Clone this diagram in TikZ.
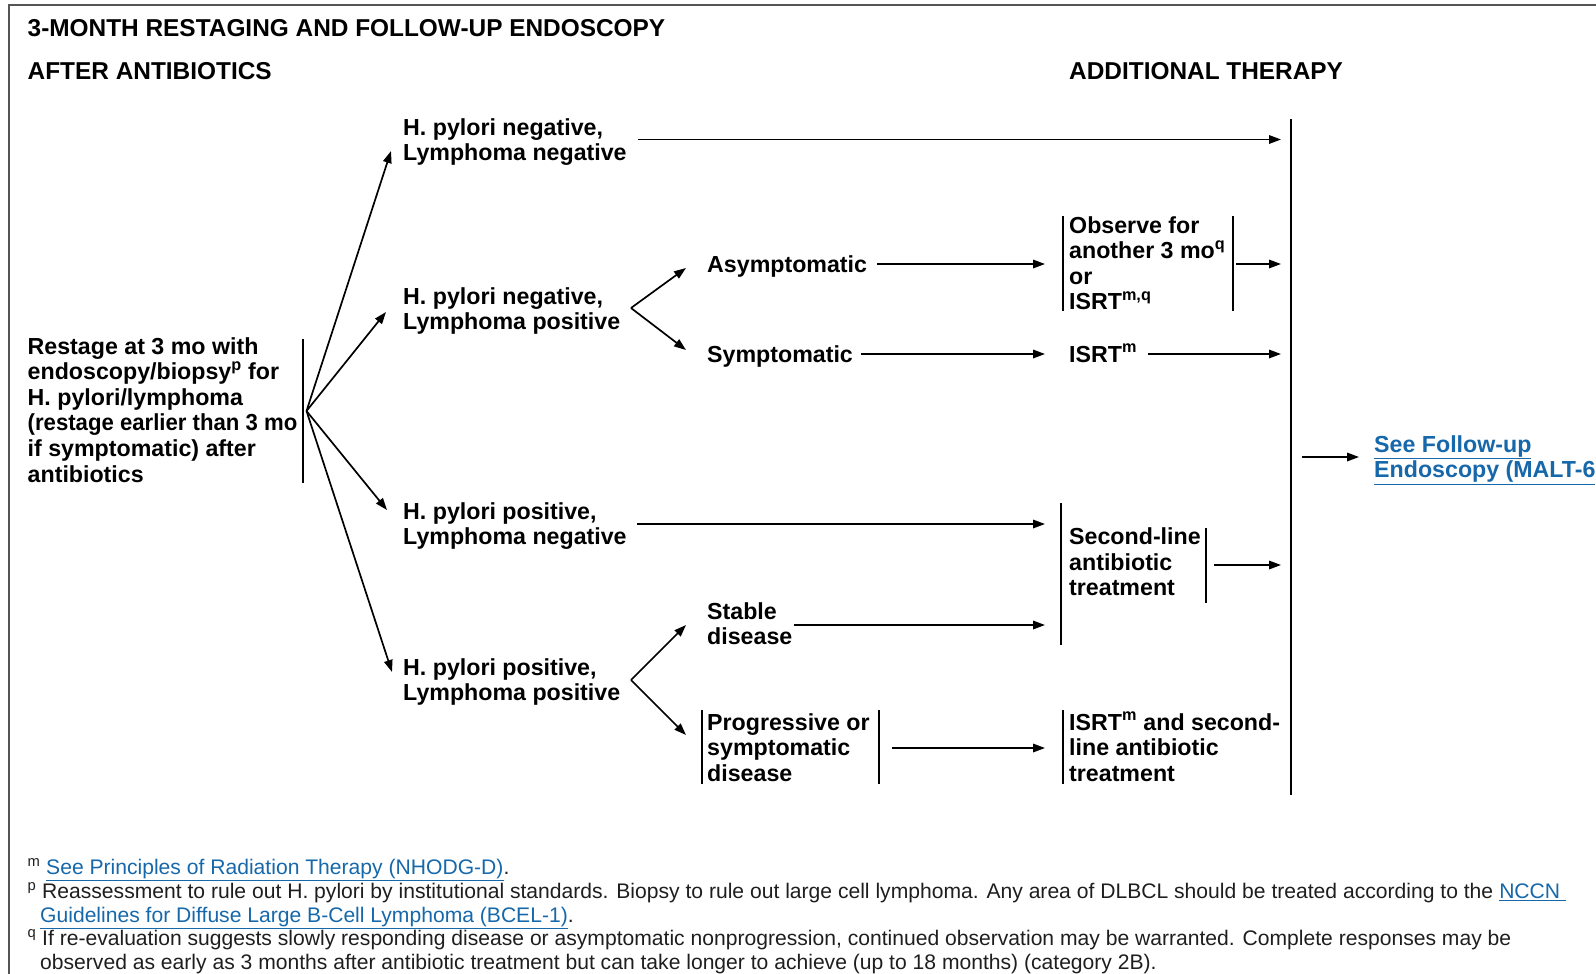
\documentclass[tikz,border=0pt]{standalone}
\usepackage{fontspec}
\usepackage{graphicx}
\setmainfont{Liberation Sans}
\usetikzlibrary{arrows.meta}
\definecolor{linkblue}{RGB}{22,104,170}
\definecolor{framegray}{RGB}{85,85,85}
\definecolor{notegray}{RGB}{30,30,30}
\newcommand{\lnk}[1]{{\color{linkblue}\underline{#1}}}
\begin{document}
% multi-line labels are anchored at the baseline of their last line
\begin{tikzpicture}[x=1pt,y=-1pt,
  head/.style={anchor=base west, inner sep=0pt, font=\fontsize{24.4}{28}\selectfont\bfseries},
  lbl/.style={anchor=base west, inner sep=0pt, align=left, font=\fontsize{23.2}{25.6}\selectfont\bfseries},
  note/.style={anchor=base west, inner sep=0pt, text=notegray, font=\fontsize{21.1}{23.6}\selectfont},
  arr/.style={line width=1.7pt, -{Triangle[length=12pt,width=8.5pt]}},
  bar/.style={line width=2pt},
  frame/.style={line width=2pt, draw=framegray}]
\useasboundingbox (0,0) rectangle (1596,974);

% page frame (top and left rules)
\draw[frame] (8.5,974) -- (8.5,5.5) -- (1596,5.5);

% headings
\node[head] (title) at (27.5,37) {3-MONTH RESTAGING AND FOLLOW-UP ENDOSCOPY};
\node[head] (colA) at (27.5,80) {AFTER ANTIBIOTICS};
\node[head] (colB) at (1069,80) {ADDITIONAL THERAPY};

% first column
\node[lbl] (restage) at (27.5,482) {Restage at 3 mo with\\endoscopy/biopsy\textsuperscript{p} for\\H. pylori/lymphoma\\\scalebox{0.955}[1]{(restage earlier than 3 mo}\\if symptomatic) after\\antibiotics};
\draw[bar] (303,339) -- (303,483);
\coordinate (fan) at (306.5,411);

% results of restaging
\node[lbl] (hnln) at (403,160.6) {H. pylori negative,\\Lymphoma negative};
\node[lbl] (hnlp) at (403,329.6) {H. pylori negative,\\Lymphoma positive};
\node[lbl] (hpln) at (403,544.6) {H. pylori positive,\\Lymphoma negative};
\node[lbl] (hplp) at (403,700.6) {H. pylori positive,\\Lymphoma positive};

\coordinate (t1) at (391,151);
\coordinate (t2) at (386,312);
\coordinate (t3) at (387,510);
\coordinate (t4) at (392,672);
\draw[arr] (fan) -- (t1);
\draw[arr] (fan) -- (t2);
\draw[arr] (fan) -- (t3);
\draw[arr] (fan) -- (t4);

% clinical status
\node[lbl] (asym) at (707,272) {Asymptomatic};
\node[lbl] (sym) at (707,362) {Symptomatic};
\node[lbl] (stable) at (707,644.6) {Stable\\disease};
\node[lbl] (prog) at (707,781.2) {Progressive or\\symptomatic\\disease};
\draw[bar] (702,710) -- (702,784);
\draw[bar] (879,710) -- (879,784);

\coordinate (forkA) at (631,308);
\coordinate (forkB) at (631,680);
\coordinate (ta1) at (686,268);
\coordinate (ta2) at (686,350);
\coordinate (tb1) at (686,625);
\coordinate (tb2) at (686,735);
\draw[arr] (forkA) -- (ta1);
\draw[arr] (forkA) -- (ta2);
\draw[arr] (forkB) -- (tb1);
\draw[arr] (forkB) -- (tb2);

% additional therapy
\node[lbl] (observe) at (1069,309.8) {Observe for\\another 3 mo\textsuperscript{q}\\or\\ISRT\textsuperscript{m,q}};
\draw[bar] (1063,216) -- (1063,311);
\draw[bar] (1233,216) -- (1233,311);
\node[lbl] (isrt) at (1069,362) {ISRT\textsuperscript{m}};
\node[lbl] (second) at (1069,595.7) {Second-line\\antibiotic\\treatment};
\draw[bar] (1061,503) -- (1061,645);
\draw[bar] (1206,528) -- (1206,603);
\node[lbl] (combo) at (1069,781.2) {ISRT\textsuperscript{m} and second-\\line antibiotic\\treatment};
\draw[bar] (1063,710) -- (1063,784);

% collecting rule on the right
\draw[bar] (1291,119) -- (1291,795);

% horizontal connectors
\coordinate (a1s) at (638,139.5);   \coordinate (a1e) at (1281,139.5);
\coordinate (a2s) at (877,264);     \coordinate (a2e) at (1045,264);
\coordinate (a3s) at (1236,264);    \coordinate (a3e) at (1281,264);
\coordinate (a4s) at (861,354);     \coordinate (a4e) at (1045,354);
\coordinate (a5s) at (1148,354);    \coordinate (a5e) at (1281,354);
\coordinate (a6s) at (637,524);     \coordinate (a6e) at (1045,524);
\coordinate (a7s) at (1214,565);    \coordinate (a7e) at (1281,565);
\coordinate (a8s) at (794,625);     \coordinate (a8e) at (1045,625);
\coordinate (a9s) at (892,748);     \coordinate (a9e) at (1045,748);
\coordinate (a10s) at (1302,457);   \coordinate (a10e) at (1359,457);
\draw[arr] (a1s) -- (a1e);
\draw[arr] (a2s) -- (a2e);
\draw[arr] (a3s) -- (a3e);
\draw[arr] (a4s) -- (a4e);
\draw[arr] (a5s) -- (a5e);
\draw[arr] (a6s) -- (a6e);
\draw[arr] (a7s) -- (a7e);
\draw[arr] (a8s) -- (a8e);
\draw[arr] (a9s) -- (a9e);
\draw[arr] (a10s) -- (a10e);

\node[lbl, text=linkblue] (follow) at (1374,477.6) {\underline{See Follow-up}\\\underline{Endoscopy (MALT-6}};

% footnotes
\node[note] (mkm) at (27.5,874.5) {\textsuperscript{m}};
\node[note] (fnm) at (46,874.5) {\lnk{See Principles of Radiation Therapy (NHODG-D)}.};
\node[note] (mkp) at (27.5,898.5) {\textsuperscript{p}};
\node[note] (fnp1) at (42,898.5) {Reassessment to rule out H. pylori by institutional standards. Biopsy to rule out large cell lymphoma. Any area of DLBCL should be treated according to the \lnk{NCCN\ }};
\node[note] (fnp2) at (40,922) {\lnk{Guidelines for Diffuse Large B-Cell Lymphoma (BCEL-1)}.};
\node[note] (mkq) at (27.5,945.5) {\textsuperscript{q}};
\node[note] (fnq1) at (42,945.5) {If re-evaluation suggests slowly responding disease or asymptomatic nonprogression, continued observation may be warranted. Complete responses may be};
\node[note] (fnq2) at (40,969) {observed as early as 3 months after antibiotic treatment but can take longer to achieve (up to 18 months) (category 2B).};
\end{tikzpicture}
\end{document}
